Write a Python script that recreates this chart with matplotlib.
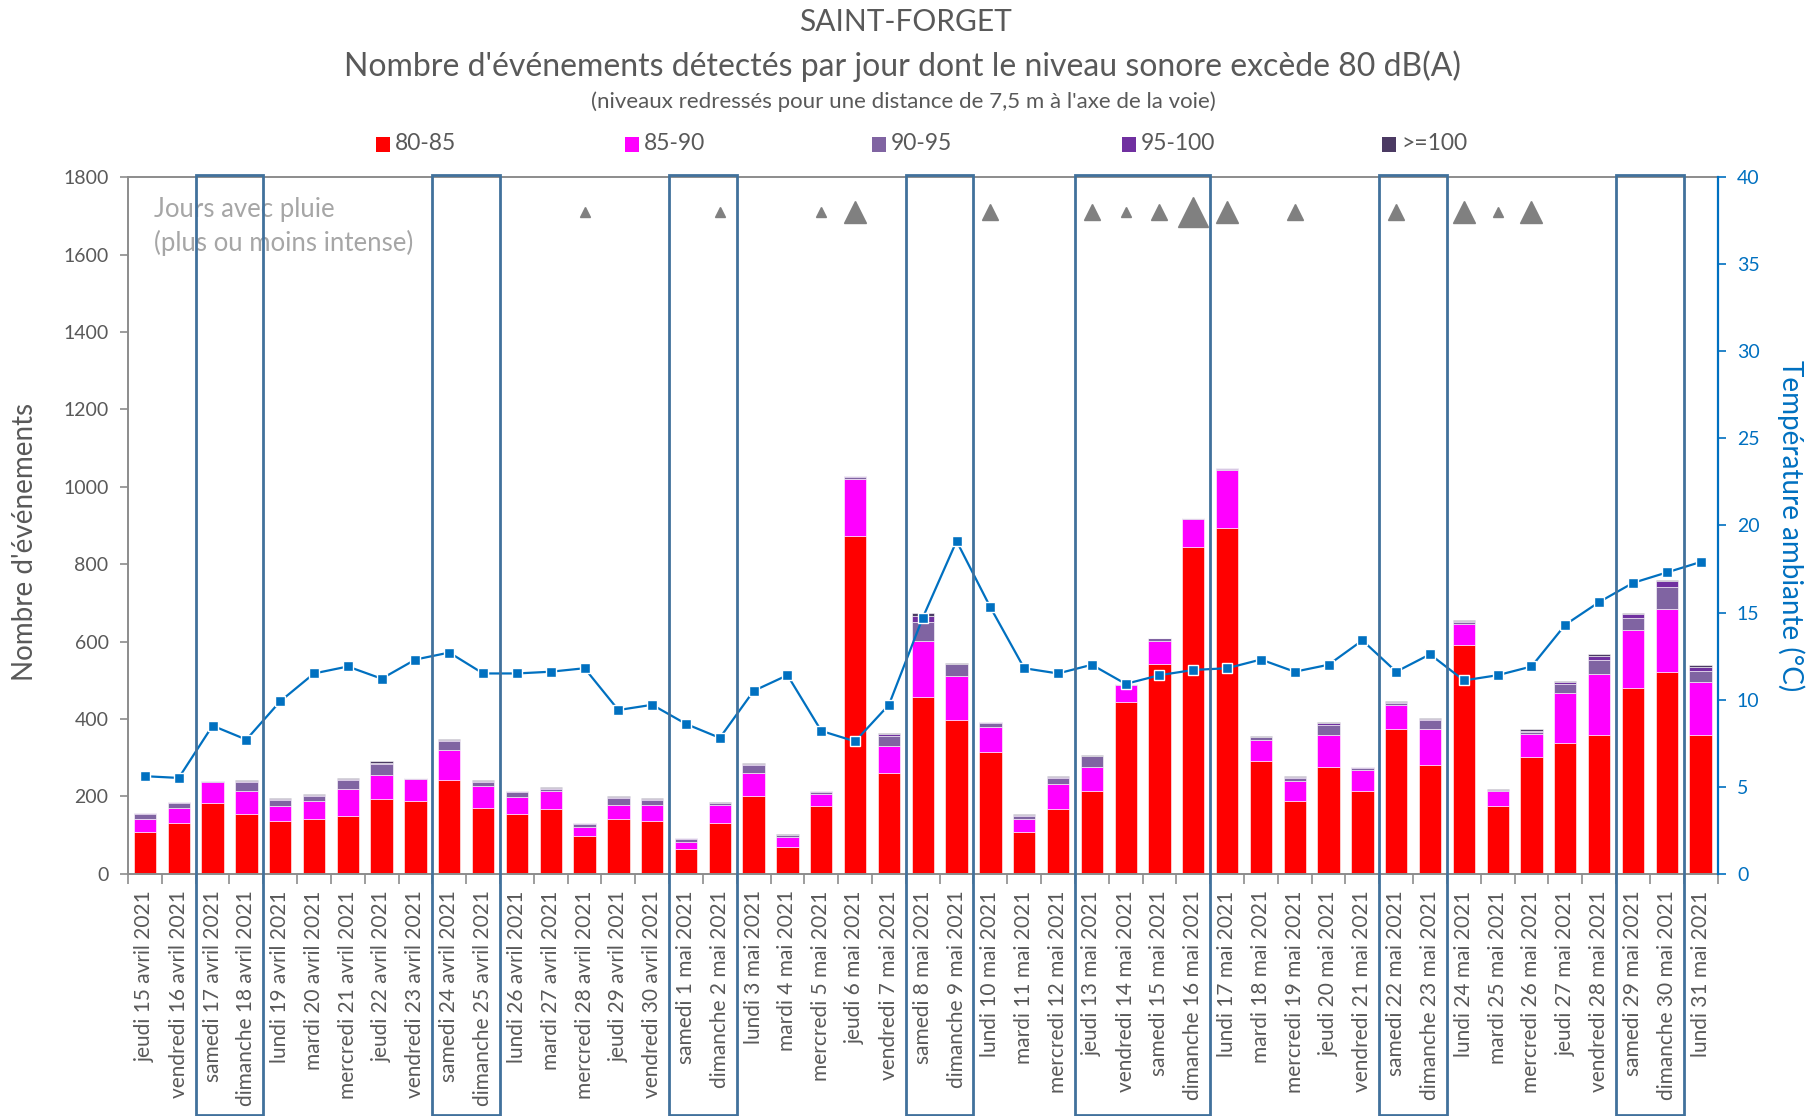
import matplotlib
matplotlib.use('Agg')
import matplotlib.pyplot as plt
import matplotlib.transforms as mtransforms
from matplotlib.patches import Rectangle
import numpy as np

plt.rcParams['font.family'] = ['Lato', 'DejaVu Sans']

# ---------------- data ----------------
days = [
    "jeudi 15 avril 2021", "vendredi 16 avril 2021", "samedi 17 avril 2021", "dimanche 18 avril 2021",
    "lundi 19 avril 2021", "mardi 20 avril 2021", "mercredi 21 avril 2021", "jeudi 22 avril 2021",
    "vendredi 23 avril 2021", "samedi 24 avril 2021", "dimanche 25 avril 2021", "lundi 26 avril 2021",
    "mardi 27 avril 2021", "mercredi 28 avril 2021", "jeudi 29 avril 2021", "vendredi 30 avril 2021",
    "samedi 1 mai 2021", "dimanche 2 mai 2021", "lundi 3 mai 2021", "mardi 4 mai 2021",
    "mercredi 5 mai 2021", "jeudi 6 mai 2021", "vendredi 7 mai 2021", "samedi 8 mai 2021",
    "dimanche 9 mai 2021", "lundi 10 mai 2021", "mardi 11 mai 2021", "mercredi 12 mai 2021",
    "jeudi 13 mai 2021", "vendredi 14 mai 2021", "samedi 15 mai 2021", "dimanche 16 mai 2021",
    "lundi 17 mai 2021", "mardi 18 mai 2021", "mercredi 19 mai 2021", "jeudi 20 mai 2021",
    "vendredi 21 mai 2021", "samedi 22 mai 2021", "dimanche 23 mai 2021", "lundi 24 mai 2021",
    "mardi 25 mai 2021", "mercredi 26 mai 2021", "jeudi 27 mai 2021", "vendredi 28 mai 2021",
    "samedi 29 mai 2021", "dimanche 30 mai 2021", "lundi 31 mai 2021",
]

n80_85 = [107, 132, 184, 155, 136, 141, 150, 194, 189, 243, 171, 155, 167, 97, 141, 136,
          63, 132, 200, 69, 176, 872, 261, 456, 397, 315, 107, 166, 213, 443, 543, 845,
          893, 291, 189, 277, 213, 374, 282, 592, 176, 302, 339, 359, 481, 520, 359]
n85_90 = [34, 39, 52, 58, 38, 48, 68, 62, 55, 77, 55, 44, 46, 23, 37, 42,
          20, 45, 61, 25, 30, 147, 69, 146, 114, 64, 34, 67, 64, 44, 59, 72,
          151, 54, 51, 82, 55, 63, 92, 53, 37, 58, 127, 156, 150, 165, 136]
n90_95 = [12, 12, 2, 23, 17, 12, 23, 27, 3, 22, 11, 12, 7, 9, 18, 12,
          7, 6, 19, 6, 6, 7, 27, 49, 30, 10, 8, 14, 26, 2, 6, 2,
          3, 8, 8, 26, 6, 5, 24, 6, 2, 7, 24, 38, 30, 55, 30]
n95_100 = [3, 2, 1, 3, 3, 2, 3, 3, 1, 4, 2, 2, 2, 1, 2, 3,
           2, 1, 3, 1, 1, 1, 3, 14, 2, 2, 3, 3, 2, 1, 1, 1,
           1, 1, 3, 4, 2, 2, 2, 3, 2, 3, 5, 9, 9, 16, 8]
n100 = [2, 1, 1, 3, 2, 2, 3, 4, 0, 3, 3, 1, 1, 1, 3, 3,
        1, 1, 3, 1, 2, 1, 3, 9, 2, 2, 2, 3, 2, 0, 1, 0,
        0, 1, 2, 4, 1, 2, 2, 2, 2, 4, 4, 6, 5, 3, 6]

series_labels = ["80-85", "85-90", "90-95", "95-100", ">=100"]

temperature = [5.6, 5.5, 8.5, 7.7, 9.9, 11.5, 11.9, 11.2, 12.3, 12.7, 11.5, 11.5, 11.6, 11.8, 9.4, 9.7,
               8.6, 7.8, 10.5, 11.4, 8.2, 7.6, 9.7, 14.7, 19.1, 15.3, 11.8, 11.5, 12.0, 10.9, 11.4, 11.7,
               11.8, 12.3, 11.6, 12.0, 13.4, 11.6, 12.6, 11.1, 11.4, 11.9, 14.3, 15.6, 16.7, 17.3, 17.9]

# rain intensity (0 = no rain, 1 = light ... 4 = heavy)
rain = [0, 0, 0, 0, 0, 0, 0, 0, 0, 0, 0, 0, 0, 1, 0, 0,
        0, 1, 0, 0, 1, 3, 0, 0, 0, 2, 0, 0, 2, 1, 2, 4,
        3, 0, 2, 0, 0, 2, 0, 3, 1, 3, 0, 0, 0, 0, 0]

# highlighted periods (first day index, last day index)
highlight_periods = [(2, 3), (9, 10), (16, 17), (23, 24), (28, 31), (37, 38), (44, 45)]

# ---------------- style ----------------
colors = ["#FF0000", "#FF00FF", "#8064A2", "#7030A0", "#4B3A63"]
grey_txt = "#595959"
axis_grey = "#8C8C8C"
blue = "#0070C0"
box_col = "#41719C"
rain_ms = {1: 6.5, 2: 12, 3: 16, 4: 22}

W, H = 1818, 1116
fig = plt.figure(figsize=(W / 100, H / 100), dpi=100)
L, R, T, B = 128, 1717.5, 177.2, 873.7
ax = fig.add_axes([L / W, 1 - B / H, (R - L) / W, (B - T) / H])

x = np.arange(len(days))
stack = [n80_85, n85_90, n90_95, n95_100, n100]
bottom = np.zeros(len(days))
for vals, col, lab in zip(stack, colors, series_labels):
    vals = np.array(vals, dtype=float)
    ax.bar(x, vals, width=0.66, bottom=bottom, color=col, edgecolor='white',
           linewidth=0.4, label=lab, zorder=2)
    bottom += vals

ax.set_xlim(-0.5, len(days) - 0.5)
ax.set_ylim(0, 1800)
ax.set_yticks(np.arange(0, 1801, 200))
ax.tick_params(axis='y', colors=axis_grey, labelcolor=grey_txt, labelsize=14,
               length=6, width=1.2, direction='out', pad=8)
ax.set_xticks(np.arange(-0.5, len(days), 1.0))
ax.set_xticklabels([])
ax.set_xticks(x, minor=True)
ax.set_xticklabels(days, minor=True, rotation=90, fontsize=15, color=grey_txt)
ax.tick_params(axis='x', which='major', length=7, width=1.2, colors=axis_grey, direction='out')
ax.tick_params(axis='x', which='minor', length=0, pad=12)
for s in ['left', 'bottom', 'top']:
    ax.spines[s].set_color(axis_grey)
    ax.spines[s].set_linewidth(1.4)
ax.spines['right'].set_visible(False)

# rain triangles
for i, r in enumerate(rain):
    if r > 0:
        ax.plot(x[i], 1710, marker='^', ms=rain_ms[r], color='#808080',
                linestyle='none', zorder=3, clip_on=False)

ax.text(0.0164, 0.954, "Jours avec pluie", transform=ax.transAxes, fontsize=18.5,
        color='#A6A6A6', va='center', ha='left')
ax.text(0.0164, 0.905, "(plus ou moins intense)", transform=ax.transAxes, fontsize=18.5,
        color='#A6A6A6', va='center', ha='left')

# secondary axis: temperature
ax2 = ax.twinx()
ax2.set_ylim(0, 40)
ax2.set_yticks(np.arange(0, 41, 5))
ax2.tick_params(axis='y', colors=blue, labelcolor=blue, labelsize=14, length=6, width=1.2, pad=8)
for s in ['left', 'bottom', 'top']:
    ax2.spines[s].set_visible(False)
ax2.spines['right'].set_color(blue)
ax2.spines['right'].set_linewidth(1.6)
ax2.plot(x, temperature, color=blue, lw=1.6, marker='s', ms=6.5, mfc=blue,
         mec='white', mew=1.0, zorder=5)

# highlighted boxes spanning plot + labels
trans = mtransforms.blended_transform_factory(ax.transData, fig.transFigure)
y_top = 1 - 175.4 / H
y_bot = 1 - 1114.5 / H
for s, e in highlight_periods:
    ax2.add_patch(Rectangle((s - 0.5, y_bot), e - s + 1, y_top - y_bot, fill=False,
                            edgecolor=box_col, lw=2.0, transform=trans, clip_on=False, zorder=10))

# axis labels
fig.text(25 / W, 1 - 542 / H, "Nombre d'événements", rotation=90, ha='center', va='center',
         fontsize=20, color=grey_txt)
fig.text(1791 / W, 1 - 526 / H, "Température ambiante (°C)", rotation=270, ha='center',
         va='center', fontsize=20, color=blue)

# titles
fig.text(905 / W, 1 - 22 / H, "SAINT-FORGET", ha='center', va='center', fontsize=21.5, color=grey_txt)
fig.text(903 / W, 1 - 66 / H,
         "Nombre d'événements détectés par jour dont le niveau sonore excède 80 dB(A)",
         ha='center', va='center', fontsize=23, color=grey_txt)
fig.text(903 / W, 1 - 102 / H,
         "(niveaux redressés pour une distance de 7,5 m à l'axe de la voie)",
         ha='center', va='center', fontsize=16, color=grey_txt)

# legend (manual, evenly spaced)
leg_x = [376, 625, 872, 1122, 1382]
leg_y = 144
for lx, col, lab in zip(leg_x, colors, series_labels):
    fig.patches.append(Rectangle((lx / W, 1 - (leg_y + 7.5) / H), 14 / W, 15 / H,
                                 transform=fig.transFigure, facecolor=col, edgecolor='none'))
    fig.text((lx + 19) / W, 1 - leg_y / H, lab, ha='left', va='center', fontsize=16.5, color=grey_txt)

fig.savefig('out.png', dpi=100)
